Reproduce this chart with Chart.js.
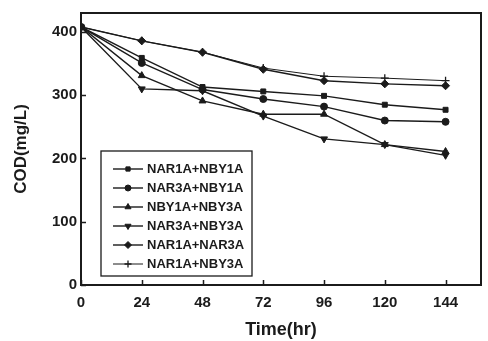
<!DOCTYPE html>
<html><head><meta charset="utf-8">
<script src="https://cdn.jsdelivr.net/npm/chart.js@4/dist/chart.umd.min.js"></script>
<style>html,body{margin:0;padding:0;background:#fff}#wrap{width:488px;height:341px}</style>
</head><body><div id="wrap"><canvas id="c" width="488" height="341"></canvas></div>
<script>
const hours = [0, 24, 48, 72, 96, 120, 144];
const xTicks = [0, 24, 48, 72, 96, 120, 144];
const yTicks = [0, 100, 200, 300, 400];
const labels = ["NAR1A+NBY1A", "NAR3A+NBY1A", "NBY1A+NBY3A", "NAR3A+NBY3A", "NAR1A+NAR3A", "NAR1A+NBY3A"];
const s1 = [408, 359, 313, 306, 299, 285, 277];
const s2 = [408, 351, 309, 294, 282, 260, 258];
const s3 = [408, 331, 291, 270, 270, 222, 211];
const s4 = [408, 310, 307, 267, 231, 222, 205];
const s5 = [408, 386, 368, 341, 323, 318, 315];
const s6 = [408, 386, 368, 343, 330, 327, 323];

const ink = '#1b1b1b';
const styles = [
  {pointStyle:'rect', rot:0, r:3.5},
  {pointStyle:'circle', rot:0, r:3.5},
  {pointStyle:'triangle', rot:0, r:4},
  {pointStyle:'triangle', rot:180, r:4},
  {pointStyle:'rectRot', rot:0, r:4},
  {pointStyle:'cross', rot:0, r:4}
];
const series = [s1, s2, s3, s4, s5, s6];
const datasets = series.map((s, i) => ({
  label: labels[i],
  data: hours.map((h, j) => ({x: h, y: s[j]})),
  borderColor: ink, backgroundColor: ink,
  borderWidth: i === 5 ? 1 : 1.4,
  pointStyle: styles[i].pointStyle, pointRotation: styles[i].rot,
  pointRadius: styles[i].r, pointBorderWidth: i === 5 ? 1.3 : 1,
  tension: 0
}));

const framePlugin = {
  id: 'frame',
  afterDraw(chart) {
    const ctx = chart.ctx, a = chart.chartArea;
    const xs = chart.scales.x, ys = chart.scales.y;
    ctx.save();
    ctx.strokeStyle = ink; ctx.lineWidth = 2;
    ctx.strokeRect(a.left, a.top, a.right - a.left, a.bottom - a.top);
    ctx.lineWidth = 1.5;
    ctx.beginPath();
    xTicks.forEach(v => { const p = Math.round(xs.getPixelForValue(v)) + 0.5; ctx.moveTo(p, a.bottom); ctx.lineTo(p, a.bottom - 5); });
    yTicks.forEach(v => { const p = Math.round(ys.getPixelForValue(v)) + 0.5; ctx.moveTo(a.left, p); ctx.lineTo(a.left + 5, p); });
    ctx.stroke();
    // legend
    const bx = a.left + 20, by = a.top + 138, bw = 151, bh = 125;
    ctx.fillStyle = '#fff';
    ctx.fillRect(bx, by, bw, bh);
    ctx.lineWidth = 1.3;
    ctx.strokeRect(bx, by, bw, bh);
    ctx.font = 'bold 13px "Liberation Sans", Arial, sans-serif';
    ctx.textBaseline = 'middle';
    ctx.fillStyle = ink;
    chart.data.datasets.forEach((d, i) => {
      const y = by + 18 + i * 19;
      ctx.strokeStyle = ink; ctx.lineWidth = d.borderWidth;
      ctx.beginPath(); ctx.moveTo(bx + 12, y); ctx.lineTo(bx + 42, y); ctx.stroke();
      ctx.lineWidth = d.pointBorderWidth;
      Chart.helpers.drawPoint(ctx, {pointStyle: d.pointStyle, rotation: d.pointRotation, radius: d.pointRadius - 0.5, borderWidth: d.pointBorderWidth}, bx + 27, y);
      ctx.fillText(d.label, bx + 46, y + 0.5);
    });
    ctx.restore();
  }
};

const tickFont = { family: '"Liberation Sans", Arial', size: 15, weight: 'bold' };
new Chart(document.getElementById('c'), {
  type: 'line',
  data: { datasets },
  options: {
    responsive: false, animation: false,
    layout: { padding: { top: 6, right: 7, left: 0, bottom: 0 } },
    plugins: { legend: { display: false }, tooltip: { enabled: false } },
    scales: {
      x: {
        type: 'linear', min: 0, max: 158,
        afterBuildTicks(s) { s.ticks = xTicks.map(v => ({ value: v })); },
        afterFit(s) { s.height = 56; },
        grid: { display: false, drawTicks: false },
        border: { display: false },
        ticks: { autoSkip: false, padding: 9, color: ink, font: tickFont, maxRotation: 0 },
        title: { display: true, text: 'Time(hr)', color: ink, font: { family: '"Liberation Sans", Arial', size: 18, weight: 'bold' }, padding: { top: 0, bottom: 0 } }
      },
      y: {
        min: 0, max: 430,
        afterBuildTicks(s) { s.ticks = yTicks.map(v => ({ value: v })); },
        afterFit(s) { s.width = 81; },
        grid: { display: false, drawTicks: false },
        border: { display: false },
        ticks: { autoSkip: false, padding: 4, color: ink, font: tickFont },
        title: { display: true, text: 'COD(mg/L)', color: ink, font: { family: '"Liberation Sans", Arial', size: 17, weight: 'bold' }, padding: { top: 11, bottom: 0 } }
      }
    }
  },
  plugins: [framePlugin]
});
</script>
</body></html>
